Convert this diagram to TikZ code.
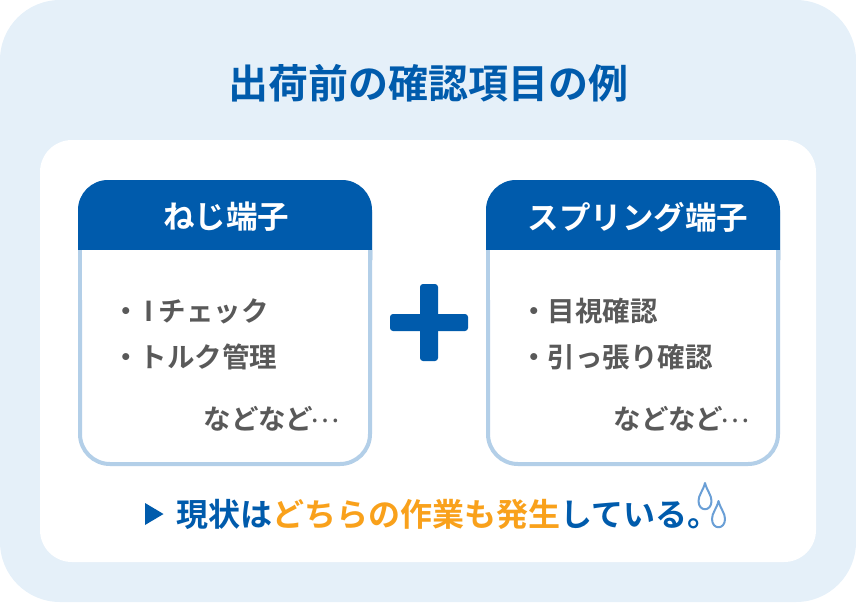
\documentclass[tikz,border=0pt]{standalone}
\usepackage{fontspec}
\newfontfamily\jp{Noto Sans CJK JP}[BoldFont={Noto Sans CJK JP Bold}]
\definecolor{bgblue}{HTML}{E5F0F9}
\definecolor{mainblue}{HTML}{005BAC}
\definecolor{edgeblue}{HTML}{B3CFE8}
\definecolor{accent}{HTML}{F9A11B}
\definecolor{bodygray}{HTML}{595959}
\definecolor{dropblue}{HTML}{6A9FD6}
\newcommand{\middots}{\hspace{-2.5pt}\raisebox{7pt}{\mdseries …}}
\tikzset{x=1pt,y=-1pt,
  titletext/.style={inner sep=0,text=mainblue,font=\jp\bfseries\fontsize{40}{44}\selectfont},
  headtext/.style={inner sep=0,text=white,font=\jp\bfseries\fontsize{31.5}{36}\selectfont},
  bodytext/.style={inner sep=0,text=bodygray,font=\jp\bfseries\fontsize{27.5}{32}\selectfont,anchor=west},
  notetext/.style={inner sep=0,anchor=west,text=mainblue,font=\jp\bfseries\fontsize{32}{36}\selectfont},
  drop/.style={draw=dropblue,line width=2pt,fill=white,line join=round},
  card/.style={draw=edgeblue,line width=4pt,fill=white,rounded corners=30pt},
}
\newcommand{\cardat}[1]{%
  \draw[card] (#1+2,182) rectangle (#1+292,464);
  \fill[mainblue,rounded corners=30pt] (#1,290) -- (#1,180) -- (#1+294,180) -- (#1+294,290) -- cycle;
  \fill[white] (#1+4,250) rectangle (#1+290,300);
  \fill[edgeblue] (#1,250) rectangle (#1+4,300);
  \fill[edgeblue] (#1+290,250) rectangle (#1+294,300);
}
\newcommand{\dropat}[2]{%
  \draw[drop] (#1,#2) .. controls (#1+2,#2+8) and (#1+6.5,#2+12) .. (#1+6.5,#2+18) .. controls (#1+6.5,#2+29) and (#1-6.5,#2+29) .. (#1-6.5,#2+18) .. controls (#1-6.5,#2+12) and (#1-2,#2+8) .. (#1,#2) -- cycle;
}
\begin{document}
\begin{tikzpicture}
\useasboundingbox (0,0) rectangle (856,602);
\fill[bgblue,rounded corners=60pt] (0,0) rectangle (856,602);
\fill[white,rounded corners=32pt] (40,140) rectangle (816,562);
\node[titletext] (title) at (428.5,83) {出荷前の確認項目の例};
\cardat{78}
\cardat{486}
\node[headtext] (h1) at (226,217) {ねじ端子};
\node[headtext] (h2) at (638,217) {スプリング端子};
\node[bodytext] (a1) at (112,311) {・\hspace{5pt}I\hspace{5pt}チェック};
\node[bodytext] (a2) at (112,357) {・トルク管理};
\node[bodytext,anchor=east] (a3) at (340,419) {などなど\middots};
\node[bodytext] (b1) at (520,311) {・目視確認};
\node[bodytext] (b2) at (520,357) {・引っ張り確認};
\node[bodytext,anchor=east] (b3) at (750,419) {などなど\middots};
\fill[mainblue,rounded corners=3pt] (390,314) rectangle (468,331);
\fill[mainblue,rounded corners=3pt] (420,284) rectangle (438,361);
\fill[mainblue] (145,503) -- (163.5,514) -- (145,525) -- cycle;
\node[notetext] (note) at (176,514) {現状は\textcolor{accent}{どちらの作業も発生}している。};
\dropat{705}{483}
\dropat{718.5}{501}
\end{tikzpicture}
\end{document}
